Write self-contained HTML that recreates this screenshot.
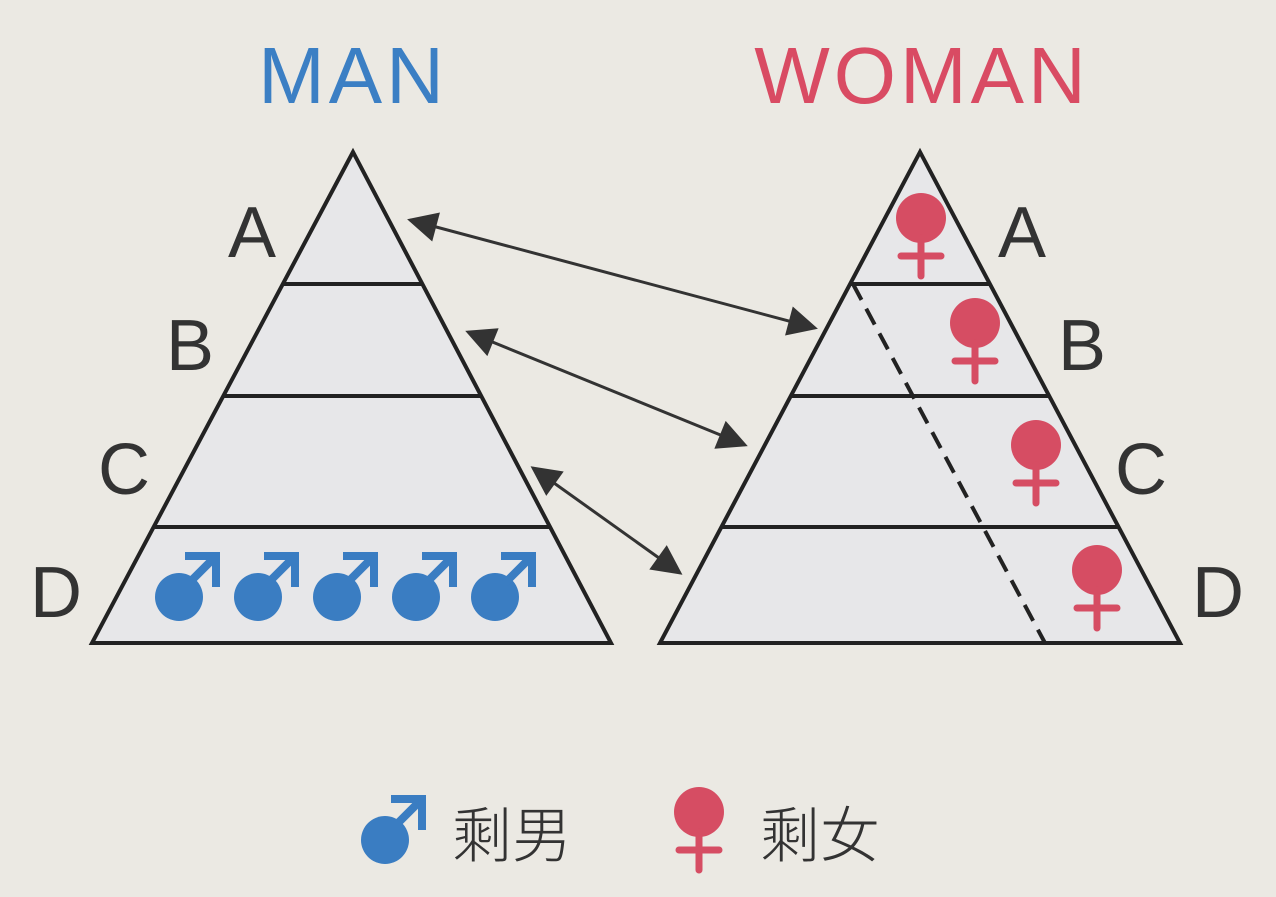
<!DOCTYPE html>
<html><head><meta charset="utf-8"><style>
html,body{margin:0;padding:0;background:#ebe9e3;}
svg{display:block}
text{font-family:"Liberation Sans","Noto Sans CJK SC",sans-serif;}
</style></head><body>
<svg width="1276" height="897" viewBox="0 0 1276 897" xmlns="http://www.w3.org/2000/svg">
<defs>
<marker id="ah2" viewBox="0 0 10 10" refX="9" refY="5" markerWidth="36" markerHeight="30" markerUnits="userSpaceOnUse" orient="auto-start-reverse"><path d="M0,0 L10,5 L0,10 z" fill="#333"/></marker>
<g id="male"><circle cx="0" cy="0" r="24" fill="#3a7dc2"/><path d="M10,-14 L37,-41 M6,-41 L37,-41 L37,-10" stroke="#3a7dc2" stroke-width="8" fill="none"/></g>
<g id="female"><circle cx="0" cy="0" r="25" fill="#d64d63"/><path d="M0,20 L0,58 M-20,38 L20,38" stroke="#d64d63" stroke-width="7" fill="none" stroke-linecap="round"/></g>
</defs>
<rect width="1276" height="897" fill="#ebe9e3"/>
<text x="353" y="103" font-size="80" fill="#3b7fc4" text-anchor="middle" letter-spacing="4">MAN</text>
<text x="922" y="103" font-size="80" fill="#d94b63" text-anchor="middle" letter-spacing="4">WOMAN</text>
<g stroke="#222" stroke-width="4" fill="#e7e7e9">
<polygon points="353,152 92,643 611,643"/>
<line x1="283" y1="284" x2="422" y2="284"/><line x1="224" y1="396" x2="481" y2="396"/><line x1="155" y1="527" x2="550" y2="527"/>
</g>
<g stroke="#222" stroke-width="4" fill="#e7e7e9">
<polygon points="920,152 660,643 1180,643"/>
<line x1="850" y1="284" x2="990" y2="284"/><line x1="791" y1="396" x2="1049" y2="396"/><line x1="722" y1="527" x2="1118" y2="527"/>
<line x1="853" y1="284" x2="1045" y2="643" stroke-dasharray="18,10"/>
</g>
<g font-size="72" fill="#333" text-anchor="middle">
<text x="252" y="257">A</text><text x="190" y="370">B</text><text x="124" y="494">C</text><text x="56" y="617">D</text>
<text x="1022" y="257">A</text><text x="1082" y="370">B</text><text x="1141" y="494">C</text><text x="1218" y="617">D</text>
</g>
<g stroke="#333" stroke-width="3">
<line x1="410" y1="220" x2="815" y2="328" marker-start="url(#ah2)" marker-end="url(#ah2)"/>
<line x1="468" y1="332" x2="745" y2="445" marker-start="url(#ah2)" marker-end="url(#ah2)"/>
<line x1="533" y1="468" x2="680" y2="573" marker-start="url(#ah2)" marker-end="url(#ah2)"/>
</g>
<g>
<use href="#male" x="179" y="597"/><use href="#male" x="258" y="597"/><use href="#male" x="337" y="597"/><use href="#male" x="416" y="597"/><use href="#male" x="495" y="597"/>
</g>
<g>
<use href="#female" x="921" y="218"/><use href="#female" x="975" y="323"/><use href="#female" x="1036" y="445"/><use href="#female" x="1097" y="570"/>
</g>
<g>
<use href="#male" x="385" y="840"/>
<text x="452" y="857" font-size="60" fill="#333" font-weight="300">剩男</text>
<use href="#female" x="699" y="812"/>
<text x="760" y="857" font-size="60" fill="#333" font-weight="300">剩女</text>
</g>
</svg>
</body></html>
